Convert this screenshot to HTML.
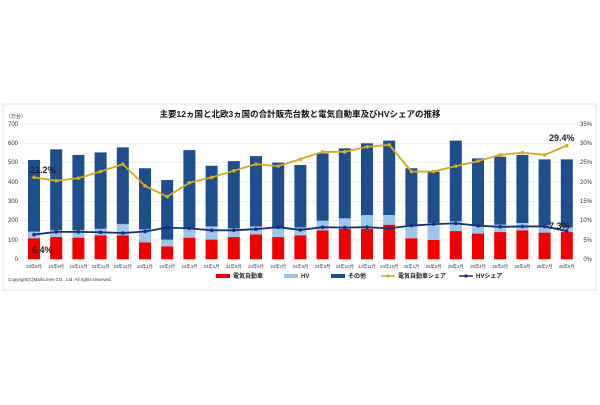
<!DOCTYPE html>
<html><head><meta charset="utf-8"><style>
body{margin:0;background:#fff;}
svg text{font-family:"Liberation Sans","Noto Sans CJK JP",sans-serif;}
</style></head><body>
<svg id="s" width="600" height="400" xmlns="http://www.w3.org/2000/svg">
<rect x="3" y="104" width="593" height="186" fill="#fff" stroke="#e4e4e4"/>
<text x="300" y="117" font-size="8.5" font-weight="bold" text-anchor="middle" fill="#111">主要12ヵ国と北欧3ヵ国の合計販売台数と電気自動車及びHVシェアの推移</text>
<text x="6" y="118" font-size="5" fill="#333">（万台）</text>
<g font-size="6" fill="#333">
<text x="18" y="126" text-anchor="end">700</text><text x="18" y="145" text-anchor="end">600</text>
<text x="18" y="164" text-anchor="end">500</text><text x="18" y="184" text-anchor="end">400</text>
<text x="18" y="203" text-anchor="end">300</text><text x="18" y="222" text-anchor="end">200</text>
<text x="18" y="242" text-anchor="end">100</text><text x="18" y="261" text-anchor="end">0</text>
<text x="592" y="126" text-anchor="end">35%</text><text x="592" y="145" text-anchor="end">30%</text>
<text x="592" y="164" text-anchor="end">25%</text><text x="592" y="184" text-anchor="end">20%</text>
<text x="592" y="203" text-anchor="end">15%</text><text x="592" y="222" text-anchor="end">10%</text>
<text x="592" y="242" text-anchor="end">5%</text><text x="592" y="261" text-anchor="end">0%</text>
</g>
<g id="grid" stroke="#e6e6e6" stroke-width="0.6"></g>
<g id="bars"></g>
<g id="lines"></g>
<g font-size="4.3" fill="#333" text-anchor="middle">
<text x="34" y="268">23年8月</text><text x="56.2" y="268">23年9月</text><text x="78.4" y="268">23年10月</text><text x="100.6" y="268">23年11月</text><text x="122.8" y="268">23年12月</text><text x="145" y="268">24年1月</text><text x="167.2" y="268">24年2月</text><text x="189.4" y="268">24年3月</text><text x="211.6" y="268">24年4月</text><text x="233.8" y="268">24年5月</text><text x="256" y="268">24年6月</text><text x="278.2" y="268">24年7月</text><text x="300.4" y="268">24年8月</text><text x="322.6" y="268">24年9月</text><text x="344.8" y="268">24年10月</text><text x="367" y="268">24年11月</text><text x="389.2" y="268">24年12月</text><text x="411.4" y="268">25年1月</text><text x="433.6" y="268">25年2月</text><text x="455.8" y="268">25年3月</text><text x="478" y="268">25年4月</text><text x="500.2" y="268">25年5月</text><text x="522.4" y="268">25年6月</text><text x="544.6" y="268">25年7月</text><text x="566.8" y="268">25年8月</text>
</g>
<g font-size="9" font-weight="bold" fill="#222">
<text x="30" y="173">21.2%</text><text x="32" y="253">6.4%</text>
<text x="549" y="141">29.4%</text><text x="549" y="229">7.3%</text>
</g>
<text x="8" y="281" font-size="4.5" fill="#333">Copyright(C)MarkLines CO., Ltd. All rights reserved.</text>
<g font-size="6" font-weight="bold" fill="#222">
<rect x="216" y="274" width="14" height="4" fill="#e00"/><text x="233" y="278">電気自動車</text>
<rect x="284" y="274" width="14" height="4" fill="#9cc5ea"/><text x="301" y="278">HV</text>
<rect x="331" y="274" width="14" height="4" fill="#1f4e8c"/><text x="348" y="278">その他</text>
<line x1="381" y1="276" x2="395" y2="276" stroke="#d4aa1e" stroke-width="1.5"/><circle cx="388" cy="276" r="1.6" fill="#d4aa1e"/><text x="398" y="278">電気自動車シェア</text>
<line x1="459" y1="276" x2="473" y2="276" stroke="#17307a" stroke-width="1.5"/><circle cx="466" cy="276" r="1.6" fill="#17307a"/><text x="476" y="278">HVシェア</text>
</g>
</svg>
<script>
var tot=[514,569,540,553,579,471,410,565,484,508,534,500,488,548,574,600,614,471,453,614,522,531,540,517,517];
var ev=[109,115,112,124,124,88,67,112,102,115,129,115,124,150,158,158,179,109,100,146,133,141,150,138,141];
var hv=[143,150,150,158,183,155,102,160,170,160,170,165,165,200,212,229,229,171,188,196,175,179,188,175,165];
var es=[21.2,20.3,21,22.7,24.6,19,16.2,19.8,21.2,22.9,24.6,24.1,25.9,27.8,27.8,29.1,29.6,22.7,22.7,24.1,25.4,27,27.6,27,29.4];
var hs=[6.4,7.1,7.1,7.0,6.8,7.2,8.2,8.0,7.5,7.5,7.8,8.3,7.6,8.3,8.2,8.3,8.0,8.7,9.1,9.3,8.7,8.4,8.5,8.5,7.3];
var ns="http://www.w3.org/2000/svg",Y0=259.3,K=0.1933,P=3.866;
function el(t,a,p){var e=document.createElementNS(ns,t);for(var k in a)e.setAttribute(k,a[k]);document.getElementById(p).appendChild(e);}
for(var g=1;g<=7;g++){var y=Y0-g*100*K;el('line',{x1:22,x2:578,y1:y,y2:y},'grid');}
function R(x,a,b,c){el('rect',{x:x-6,y:Y0-b*K,width:12,height:(b-a)*K,fill:c},'bars');}
var ep=[],hp=[];
for(var i=0;i<25;i++){var x=34+i*22.2;R(x,0,ev[i],'#e00');R(x,ev[i],hv[i],'#9cc5ea');R(x,hv[i],tot[i],'#1f4e8c');
ep.push(x+','+(Y0-es[i]*P));hp.push(x+','+(Y0-hs[i]*P));}
el('polyline',{points:ep.join(' '),fill:'none',stroke:'#d4aa1e','stroke-width':1.8},'lines');
el('polyline',{points:hp.join(' '),fill:'none',stroke:'#17307a','stroke-width':1.8},'lines');
for(i=0;i<25;i++){var x=34+i*22.2;el('circle',{cx:x,cy:Y0-es[i]*P,r:1.8,fill:'#d4aa1e'},'lines');el('circle',{cx:x,cy:Y0-hs[i]*P,r:1.8,fill:'#17307a'},'lines');}
</script>
</body></html>
